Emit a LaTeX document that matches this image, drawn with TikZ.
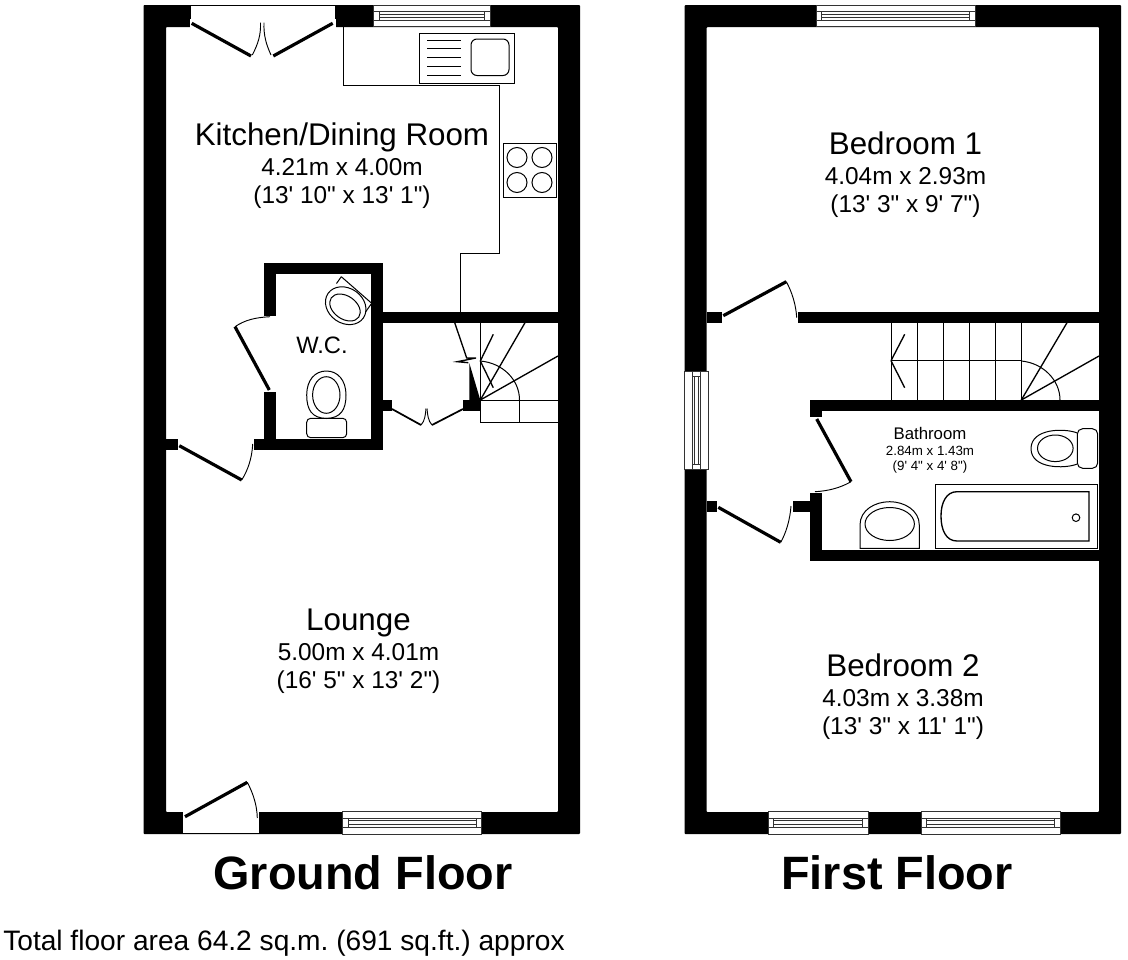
\documentclass[tikz,border=0pt]{standalone}
\usepackage{fontspec}
\setmainfont{Liberation Sans}[Ligatures=TeXOff]
\frenchspacing
\newcommand{\fpx}[1]{\fontsize{#1}{#1}\selectfont}
\tikzset{
  x=0.75pt,y=-0.75pt,
  wallfill/.style={fill=black},
  fixture/.style={draw=black,line width=0.75pt,fill=white},
  thinline/.style={draw=black,line width=0.75pt},
  leaf/.style={draw=black,line width=2.4pt},
  smallleaf/.style={draw=black,line width=1.3pt},
  swing/.style={draw=black,line width=0.7pt},
  winline/.style={draw=black!80,line width=0.6pt,fill=white},
  roomname/.style={anchor=base,inner sep=0pt,font=\fpx{23.5}},
  roomdim/.style={anchor=base,inner sep=0pt,font=\fpx{18.3}},
  bathname/.style={anchor=base,inner sep=0pt,font=\fpx{12.6}},
  bathdim/.style={anchor=base,inner sep=0pt,font=\fpx{10}},
  floortitle/.style={anchor=base,inner sep=0pt,font=\bfseries\fpx{35.1}},
}
\newcommand{\wl}[4]{\fill[wallfill] (#1,#2) rectangle (#3,#4);}
\newcommand{\winH}[4]{% x0 x1 y0 y1
  \path[winline] (#1,#3) rectangle (#2,#4);
  \pgfmathsetmacro{\ymid}{(#3+#4)/2}
  \pgfmathsetmacro{\xa}{#1+5.5}\pgfmathsetmacro{\xb}{#2-5.5}
  \pgfmathsetmacro{\ya}{\ymid-4.5}\pgfmathsetmacro{\yb}{\ymid+4.5}
  \pgfmathsetmacro{\yc}{\ymid-1.7}\pgfmathsetmacro{\yd}{\ymid+1.7}
  \path[winline] (#1,\ya) rectangle (#2,\yb);
  \path[winline] (\xa,\ya) rectangle (\xb,\yb);
  \path[winline] (\xa,\yc) rectangle (\xb,\yd);
}
\newcommand{\winV}[4]{% y0 y1 x0 x1
  \path[winline] (#3,#1) rectangle (#4,#2);
  \pgfmathsetmacro{\xmid}{(#3+#4)/2}
  \pgfmathsetmacro{\ya}{#1+5}\pgfmathsetmacro{\yb}{#2-5}
  \pgfmathsetmacro{\xa}{\xmid-4}\pgfmathsetmacro{\xb}{\xmid+4}
  \pgfmathsetmacro{\xc}{\xmid-1.7}\pgfmathsetmacro{\xd}{\xmid+1.7}
  \path[winline] (\xa,#1) rectangle (\xb,#2);
  \path[winline] (\xa,\ya) rectangle (\xb,\yb);
  \path[winline] (\xc,\ya) rectangle (\xd,\yb);
}
\newcommand{\roomtxt}[6]{% id x y name dim1 dim2
  \node[roomname] (#1a) at (#2,#3) {#4};
  \node[roomdim] (#1b) at (#2,#3+30) {#5};
  \node[roomdim] (#1c) at (#2,#3+58) {#6};
}
\begin{document}
\begin{tikzpicture}
\useasboundingbox (0,0) rectangle (1128,960);
\fill[white] (0,0) rectangle (1128,960);

% ===== Ground floor shell =====
\fill[wallfill,even odd rule,rounded corners=0.6pt] (143.5,5) rectangle (580,834) (166,27) rectangle (558,812);
\wl{264.3}{263}{382.7}{274}
\wl{264.3}{263}{275.7}{315.7}
\wl{264.3}{391.7}{275.7}{450.3}
\wl{254}{438.7}{382.7}{450.3}
\wl{371.3}{263}{382.7}{450.3}
\wl{382}{311.7}{558}{322.7}
\wl{166}{438.7}{177.7}{450.3}
\wl{382}{400}{391.7}{411}
\wl{462.7}{400}{480.3}{411}
\fill[wallfill] (469.3,363) -- (480.3,400) -- (469.3,400) -- cycle;

% openings
\path[fill=white,draw=black,line width=0.6pt] (190,5.5) rectangle (335,28);
\draw[white,line width=1.5pt,fill=white] (190.5,20) rectangle (334.5,30);
\path[fill=white] (183,812) rectangle (259.3,833);
\draw[line width=0.7pt] (183,833.3) -- (259.3,833.3);

% windows
\winH{373.7}{490}{5}{26.5}
\winH{342.7}{481.7}{811}{834}

% french doors
\draw[leaf] (191.7,23.3) -- (251,56);
\draw[leaf] (273.3,56) -- (332.7,23.3);
\draw[swing] (252.3,55) .. controls (258,44) and (261,35) .. (260.5,22.7);
\draw[swing] (271,55) .. controls (266,44) and (263.5,35) .. (264,22.7);

% kitchen worktop
\draw[thinline] (343,27) -- (343,85) -- (499,85) -- (499,253) -- (460,253) -- (460,312);
\path[fixture] (419.5,33) rectangle (514.5,83);
\foreach \yy in {40,48.5,57.5,66.5,75.5} \draw[thinline] (427,\yy) -- (461,\yy);
\draw[thinline,rounded corners=4.5pt] (471,39) rectangle (509,75.5);
\path[fixture] (503,143) rectangle (556.5,197);
\foreach \xx in {517,542} \foreach \yy in {157.5,182.5} \draw[thinline] (\xx,\yy) circle [radius=10];

% WC fittings
\draw[thinline] (341.3,276.7) -- (371.7,303.3);
\draw[thinline] (341.3,276.7) -- (336.5,283.5);
\draw[thinline] (371.7,303.3) -- (365.5,312);
\draw[thinline] (345.7,305.7) ellipse [x radius=21.5,y radius=17.5,rotate=-35];
\draw[thinline] (345,307.5) ellipse [x radius=16.8,y radius=11.5,rotate=-35];
\draw[thinline] (326.3,418.5) .. controls (312,418) and (306.7,410) .. (306.7,395) .. controls (306.7,380) and (315,371) .. (326.3,371) .. controls (337.6,371) and (346,380) .. (346,395) .. controls (346,410) and (340.6,418) .. (326.3,418.5);
\draw[thinline] (326.3,395) ellipse [x radius=13.7,y radius=18.3];
\draw[thinline,rounded corners=3pt] (306.7,418.3) rectangle (346.7,437.7);

% WC door and hall door
\draw[leaf] (235,326.7) -- (269.3,390);
\draw[swing] (235,326.7) .. controls (245,320) and (255,317.5) .. (270,316.7);
\draw[leaf] (179.3,445.7) -- (241.7,480);
\draw[swing] (241.7,480) .. controls (248,470) and (252,458) .. (252.7,444);
\draw[smallleaf] (392,409) -- (421,425);
\draw[smallleaf] (432,425) -- (463,409);
\draw[swing] (421,425) .. controls (425,421) and (425.5,414) .. (426,408.5);
\draw[swing] (432,425) .. controls (428,421) and (427.5,414) .. (427,408.5);
\draw[leaf] (185,816.7) -- (247.3,782.3);
\draw[swing] (247.3,782.3) .. controls (253,793) and (257,805) .. (257.3,818);

% ground floor stairs
\draw[thinline] (480.3,322.7) -- (480.3,422.3) -- (558,422.3);
\draw[thinline] (480.3,400) -- (558,400);
\draw[thinline] (519.5,400) -- (519.5,422.3);
\draw[smallleaf,line width=1pt] (480.3,400) -- (558,356);
\draw[smallleaf,line width=1pt] (480.3,400) -- (525,322.7);
\draw[thinline] (480.3,361) .. controls (503,363) and (519.5,380) .. (519.5,400);
\draw[smallleaf,line width=1pt] (480.3,361) -- (493.3,334.3);
\draw[smallleaf,line width=1pt] (480.3,361) -- (493.3,387.7);
\draw[smallleaf,line width=1pt] (454.7,322.7) -- (466.7,358) -- (476,358) -- (457.3,361.7) -- (468.3,362.7);

% ===== First floor shell =====
\fill[wallfill,even odd rule,rounded corners=0.6pt] (684.7,5) rectangle (1121,834) (706.7,27) rectangle (1099,812);
\wl{706.7}{311.5}{721.7}{322.7}
\wl{798.3}{311.5}{1099}{322.7}
\wl{810}{400}{1099}{411.3}
\wl{810}{400}{821.7}{416.7}
\wl{810}{493.3}{821.7}{561}
\wl{810}{550}{1099}{561}
\wl{792.7}{500.7}{810}{512.3}
\wl{706.7}{500.7}{716.7}{512.3}

% windows
\winH{816}{975}{5}{26.5}
\winH{768}{868}{811}{834}
\winH{921}{1060}{811}{834}
\winV{371.7}{469.3}{684.7}{708.3}

% doors
\draw[leaf] (723.3,315.7) -- (786.3,281.7);
\draw[swing] (786.3,281.7) .. controls (792,292) and (796,305) .. (796.7,317.7);
\draw[leaf] (816.7,419) -- (851,481.7);
\draw[swing] (851,481.7) .. controls (840,488) and (828,491) .. (815,491.7);
\draw[leaf] (718.3,507.3) -- (780.7,542.3);
\draw[swing] (780.7,542.3) .. controls (786,533) and (790,520) .. (791,506);

% first floor stairs
\foreach \xx in {891,917.3,943.3,969.3,995.3,1021.3} \draw[thinline] (\xx,322.7) -- (\xx,400);
\draw[thinline] (891,360.7) -- (1021.3,360.7);
\draw[smallleaf,line width=1pt] (891,360.7) -- (904.7,334.3);
\draw[smallleaf,line width=1pt] (891,360.7) -- (904.7,387.7);
\draw[smallleaf,line width=1pt] (1021.3,400) -- (1067,322.7);
\draw[smallleaf,line width=1pt] (1021.3,400) -- (1099,356);
\draw[thinline] (1021.3,361) .. controls (1043,363) and (1060,380) .. (1060,400);

% bathroom fittings
\draw[thinline,rounded corners=4pt] (1077.3,428.7) rectangle (1097.7,468.3);
\draw[thinline] (1077.3,433) .. controls (1065,428) and (1031,428) .. (1031,448.7) .. controls (1031,469) and (1065,469) .. (1077.3,464);
\draw[thinline] (1055.3,448.3) ellipse [x radius=17.8,y radius=13.3];
\path[fixture] (935.7,484.3) rectangle (1097.3,548.3);
\draw[thinline,line width=1pt] (1089,491.7) -- (957,491.7) .. controls (946,491.7) and (941,503) .. (941,516) .. controls (941,530) and (946,541) .. (957,541) -- (1089,541) -- cycle;
\draw[thinline] (1076,517.7) circle [radius=3.8];
\draw[thinline] (860,548.3) -- (860,525) .. controls (860,510) and (875,501.7) .. (889.7,501.7) .. controls (904,501.7) and (919.3,510) .. (919.3,525) -- (919.3,548.3) -- cycle;
\draw[thinline] (889.7,524) ellipse [x radius=24.7,y radius=16.5];

% ===== Texts =====
\roomtxt{kitchen}{342}{145}{Kitchen/Dining Room}{4.21m x 4.00m}{(13' 10" x 13' 1")}
\roomtxt{lounge}{358.5}{630}{Lounge}{5.00m x 4.01m}{(16' 5" x 13' 2")}
\roomtxt{bedone}{905.5}{154}{Bedroom 1}{4.04m x 2.93m}{(13' 3" x 9' 7")}
\roomtxt{bedtwo}{903}{676}{Bedroom 2}{4.03m x 3.38m}{(13' 3" x 11' 1")}
\node[anchor=base,inner sep=0pt,font=\fpx{17.8}] (wc) at (322,353) {W.C.};
\node[bathname] (batha) at (930,439) {Bathroom};
\node[bathdim] (bathb) at (930,455) {2.84m x 1.43m};
\node[bathdim] (bathc) at (930,470) {(9' 4" x 4' 8")};
\node[floortitle] (gf) at (363,889) {Ground Floor};
\node[floortitle] (ff) at (897,889) {First Floor};
\node[anchor=base west,inner sep=0pt,font=\fpx{21.1}] (total) at (3,950) {Total floor area 64.2 sq.m. (691 sq.ft.) approx};
\end{tikzpicture}
\end{document}
